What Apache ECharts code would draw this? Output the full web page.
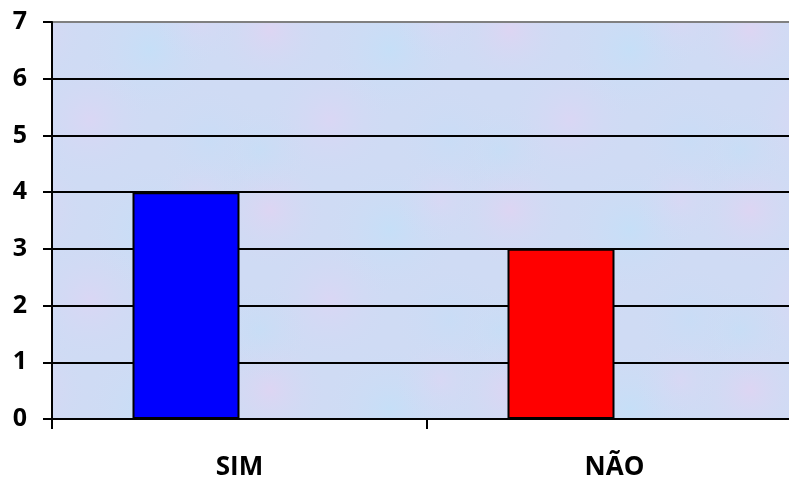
<!DOCTYPE html>
<html>
<head>
<meta charset="utf-8">
<style>
  html, body { margin: 0; padding: 0; background: #ffffff; overflow: hidden; }
  body { width: 789px; height: 484px; }
  /* plot runs a little past the right edge of the window */
  #chart { width: 802px; height: 484px; }
</style>
<script src="https://cdn.jsdelivr.net/npm/echarts@6/dist/echarts.min.js"></script>
</head>
<body>
<div id="chart"></div>
<script>
// Answers and how many times each was given
const categories = ['SIM', 'NÃO'];
const counts = [4, 3];
const barColors = ['#0000ff', '#ff0000'];
// Empty companion series: keeps each bar in the left half of its slot
const companion = [null, null];
const yTicks = [0, 1, 2, 3, 4, 5, 6, 7];

// Soft blue/pink mottled fill for the plot area
function makeTexture() {
  const c = document.createElement('canvas');
  c.width = 240; c.height = 180;
  const g = c.getContext('2d');
  g.fillStyle = '#cfdbf4';
  g.fillRect(0, 0, c.width, c.height);
  const blobs = [
    [30, 30, 60, 'rgba(232,208,242,0.55)'],
    [150, 50, 70, 'rgba(190,226,250,0.55)'],
    [90, 120, 65, 'rgba(228,210,244,0.5)'],
    [210, 140, 60, 'rgba(195,222,248,0.5)'],
    [200, 20, 45, 'rgba(226,212,244,0.45)'],
    [20, 150, 50, 'rgba(192,224,248,0.45)']
  ];
  blobs.forEach(([x, y, r, col]) => {
    [-c.width, 0, c.width].forEach(dx => {
      [-c.height, 0, c.height].forEach(dy => {
        const grad = g.createRadialGradient(x + dx, y + dy, 0, x + dx, y + dy, r);
        grad.addColorStop(0, col);
        grad.addColorStop(1, 'rgba(207,219,244,0)');
        g.fillStyle = grad;
        g.fillRect(x + dx - r, y + dy - r, 2 * r, 2 * r);
      });
    });
  });
  return c;
}

const chart = echarts.init(document.getElementById('chart'), null, { renderer: 'canvas' });

const gridLineColors = yTicks.map(v => (v === yTicks[yTicks.length - 1] ? '#808080' : '#000000'));

chart.setOption({
  animation: false,
  backgroundColor: '#ffffff',
  textStyle: { fontFamily: 'Open Sans' },
  grid: {
    left: 52, top: 22, bottom: 65, right: 0,
    show: true,
    backgroundColor: { image: makeTexture(), repeat: 'repeat' },
    borderWidth: 0
  },
  xAxis: {
    type: 'category',
    data: categories,
    axisLine: { lineStyle: { color: '#000', width: 2 } },
    axisTick: { show: true, length: 10, lineStyle: { color: '#000', width: 2 } },
    axisLabel: {
      color: '#000', fontSize: 26, fontWeight: 'bold',
      fontFamily: 'Open Sans', margin: 36
    }
  },
  yAxis: {
    type: 'value',
    min: 0, max: 7, interval: 1,
    axisLine: { show: true, lineStyle: { color: '#000', width: 2 } },
    axisTick: { show: true, length: 9, lineStyle: { color: '#000', width: 2 } },
    axisLabel: {
      color: '#000', fontSize: 25, fontWeight: 'bold',
      fontFamily: 'Open Sans', margin: 25,
      formatter: v => String(v)
    },
    splitLine: { show: true, lineStyle: { color: gridLineColors, width: 2 } }
  },
  series: [
    {
      type: 'bar',
      data: counts.map((v, i) => ({ value: v, itemStyle: { color: barColors[i] } })),
      barWidth: 107,
      barGap: '0%',
      itemStyle: { borderColor: '#000', borderWidth: 2 }
    },
    {
      type: 'bar',
      data: companion,
      barWidth: 107,
      barGap: '0%'
    }
  ]
});
</script>
</body>
</html>
